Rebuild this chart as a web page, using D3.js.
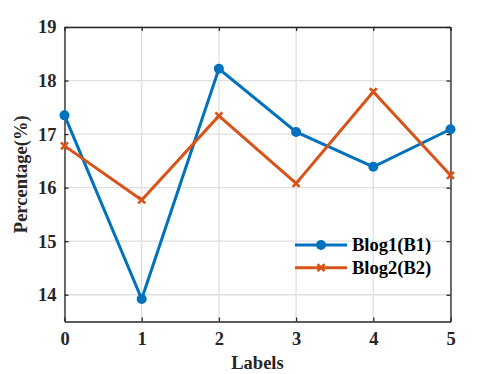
<!DOCTYPE html>
<html>
<head>
<meta charset="utf-8">
<script src="https://cdn.jsdelivr.net/npm/d3@7"></script>
<style>
  body { margin: 0; background: #fff; }
  text { font-family: "Liberation Serif", "Times New Roman", serif; font-weight: bold; }
</style>
</head>
<body>
<div class="container"></div>
<script>
var labels = [0, 1, 2, 3, 4, 5];
var blog1 = [17.35, 13.92, 18.22, 17.04, 16.39, 17.09];
var blog2 = [16.78, 15.77, 17.34, 16.08, 17.79, 16.23];
var yTicks = [14, 15, 16, 17, 18, 19];
var seriesNames = ['Blog1(B1)', 'Blog2(B2)'];

const WIDTH = 498;
const HEIGHT = 374;
const LEFT = 64.5, RIGHT = 450.5, TOP = 27, BOTTOM = 321.5;
const BLUE = '#0072BD', ORANGE = '#D95319';
const FONT_SIZE = '18.5px';

var svg = d3.select('.container').append('svg')
  .attr('width', WIDTH)
  .attr('height', HEIGHT);

var xScale = d3.scaleLinear().domain([0, 5]).range([LEFT, RIGHT]);
var yScale = d3.scaleLinear().domain([13.5, 19]).range([BOTTOM, TOP]);

// grid
svg.append('g').selectAll('line').data(labels).enter().append('line')
  .attr('x1', function (d) { return xScale(d); })
  .attr('x2', function (d) { return xScale(d); })
  .attr('y1', TOP).attr('y2', BOTTOM)
  .attr('stroke', '#dfdfdf').attr('stroke-width', 1.3);
svg.append('g').selectAll('line').data(yTicks).enter().append('line')
  .attr('y1', function (d) { return yScale(d); })
  .attr('y2', function (d) { return yScale(d); })
  .attr('x1', LEFT).attr('x2', RIGHT)
  .attr('stroke', '#dfdfdf').attr('stroke-width', 1.3);

// axes (ticks inward, box)
var xAxis = d3.axisBottom(xScale).tickValues(labels).tickFormat(d3.format('d'))
  .tickSizeInner(-4).tickSizeOuter(0).tickPadding(10);
var yAxis = d3.axisLeft(yScale).tickValues(yTicks).tickFormat(d3.format('d'))
  .tickSizeInner(-4).tickSizeOuter(0).tickPadding(8);
var xTop = d3.axisTop(xScale).tickValues(labels).tickSizeInner(-4).tickSizeOuter(0).tickFormat('');
var yRight = d3.axisRight(yScale).tickValues(yTicks).tickSizeInner(-4).tickSizeOuter(0).tickFormat('');

function styleAxis(g) {
  g.selectAll('path,line').attr('stroke', '#262626').attr('stroke-width', 1.3);
  g.selectAll('text').attr('fill', '#262626').style('font-size', FONT_SIZE)
    .style('font-family', '"Liberation Serif", serif').style('font-weight', 'bold');
}

svg.append('g').attr('transform', 'translate(0,' + BOTTOM + ')').call(xAxis).call(styleAxis);
svg.append('g').attr('transform', 'translate(' + LEFT + ',0)').call(yAxis).call(styleAxis);
svg.append('g').attr('transform', 'translate(0,' + TOP + ')').call(xTop).call(styleAxis);
svg.append('g').attr('transform', 'translate(' + RIGHT + ',0)').call(yRight).call(styleAxis);

// lines
var line = d3.line()
  .x(function (d, i) { return xScale(labels[i]); })
  .y(function (d) { return yScale(d); });

svg.append('path').attr('d', line(blog1)).attr('fill', 'none')
  .attr('stroke', BLUE).attr('stroke-width', 3);
svg.append('path').attr('d', line(blog2)).attr('fill', 'none')
  .attr('stroke', ORANGE).attr('stroke-width', 3);

// markers
svg.append('g').selectAll('circle').data(blog1).enter().append('circle')
  .attr('cx', function (d, i) { return xScale(labels[i]); })
  .attr('cy', function (d) { return yScale(d); })
  .attr('r', 5).attr('fill', BLUE);

var xMark = function (cx, cy, s) {
  return 'M' + (cx - s) + ',' + (cy - s) + 'L' + (cx + s) + ',' + (cy + s) +
    'M' + (cx - s) + ',' + (cy + s) + 'L' + (cx + s) + ',' + (cy - s);
};
svg.append('g').selectAll('path').data(blog2).enter().append('path')
  .attr('d', function (d, i) { return xMark(xScale(labels[i]), yScale(d), 3.5); })
  .attr('stroke', ORANGE).attr('stroke-width', 2.6).attr('fill', 'none');

// axis labels
svg.append('text').attr('x', (LEFT + RIGHT) / 2).attr('y', 369)
  .attr('text-anchor', 'middle').style('font-size', FONT_SIZE).attr('fill', '#262626')
  .text('Labels');
svg.append('text').attr('transform', 'translate(27,' + ((TOP + BOTTOM) / 2) + ') rotate(-90)')
  .attr('text-anchor', 'middle').style('font-size', FONT_SIZE).attr('fill', '#262626')
  .text('Percentage(%)');

// legend
var legend = svg.append('g');
var legendColors = [BLUE, ORANGE];
seriesNames.forEach(function (name, i) {
  var y = 245 + i * 22.7;
  legend.append('line').attr('x1', 295).attr('x2', 347).attr('y1', y).attr('y2', y)
    .attr('stroke', legendColors[i]).attr('stroke-width', 3);
  if (i === 0) {
    legend.append('circle').attr('cx', 321).attr('cy', y).attr('r', 5).attr('fill', BLUE);
  } else {
    legend.append('path').attr('d', xMark(321, y, 3.5))
      .attr('stroke', ORANGE).attr('stroke-width', 2.6);
  }
  legend.append('text').attr('x', 352).attr('y', y + 6)
    .style('font-size', FONT_SIZE).attr('fill', '#000').text(name);
});
</script>
</body>
</html>
